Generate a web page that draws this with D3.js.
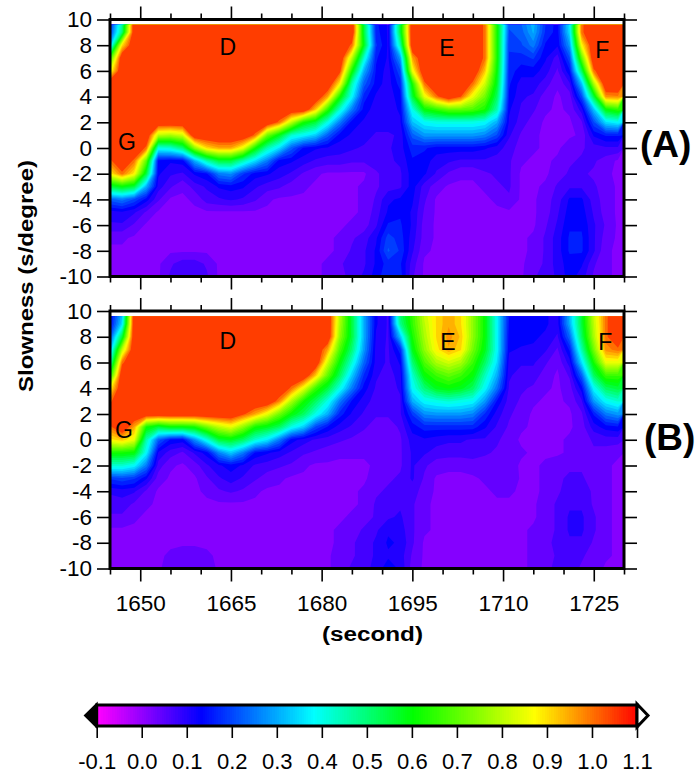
<!DOCTYPE html>
<html>
<head>
<meta charset="utf-8">
<script src="https://cdn.jsdelivr.net/npm/d3@7"></script>
<style>
body { margin: 0; background: #fff; }
text { font-family: "Liberation Sans", sans-serif; fill: #000; }
</style>
</head>
<body>
<svg width="698" height="774"></svg>
<script>
// Grid axes. Columns run along time, rows from the top of the panel down.

var times = d3.range(1645, 1730, 2);
var slownesses = d3.range(10, -11, -1);

// Coherence, in hundredths. 110 = saturated red.

var panelA = [
 [15,45,110,110,110,110,110,110,110,110, 110,110,110,110,110,110,110,110,110,110, 110,55,15,11,55,110,110,110,110,110, 110,100,62,22,24,32,18,13,38,100,110,110,110],
 [18,50,110,110,110,110,110,110,110,110, 110,110,110,110,110,110,110,110,110,110, 110,55,16,11,55,110,110,110,110,110, 110,100,62,20,22,30,17,13,35,100,110,110,110],
 [30,90,110,110,110,110,110,110,110,110, 110,110,110,110,110,110,110,110,110,110, 100,58,18,11,45,110,110,110,110,110, 110,100,62,18,20,25,14,12,28,87,110,110,110],
 [65,110,110,110,110,110,110,110,110,110, 110,110,110,110,110,110,110,110,110,110, 80,42,15,11,28,95,110,110,110,110, 110,100,62,17,16,18,12,7,20,70,110,110,110],
 [85,110,110,110,110,110,110,110,110,110, 110,110,110,110,110,110,110,110,110,104, 62,30,14,10,20,85,110,110,110,110, 110,92,60,16,13,13,10,5,14,52,100,110,110],
 [110,110,110,110,110,110,110,110,110,110, 110,110,110,110,110,110,110,110,110,88, 45,22,13,10,16,62,100,110,110,110, 100,82,57,15,10,10,7,3,8,32,78,110,110],
 [110,110,110,110,110,110,110,110,110,110, 110,110,110,110,110,110,110,110,95,62, 38,16,11,10,13,55,85,100,110,102, 85,72,52,14,9,8,4,2,4,20,55,97,98],
 [110,110,110,110,110,110,110,110,110,110, 110,110,110,110,110,110,110,92,65,42, 25,13,10,10,12,40,60,65,70,70, 68,62,45,12,8,6,3,2,3,10,32,60,65],
 [110,110,110,110,110,110,110,110,110,110, 110,110,110,110,100,80,62,55,40,25, 13,11,10,10,11,32,38,40,40,40, 40,38,30,11,7,4,2,2,2,5,20,35,38],
 [110,110,110,110,80,78,82,110,110,110, 110,110,100,72,58,42,38,33,22,13, 11,10,8,8,9,22,28,28,28,28, 28,26,20,9,5,3,2,2,2,3,12,15,15],
 [110,110,110,100,40,42,50,75,90,95, 95,85,62,45,35,22,14,12,11,10, 9,8,7,8,10,16,15,13,13,13, 13,12,10,7,4,3,2,2,4,5,7,8,8],
 [100,110,100,70,13,12,13,30,45,55, 55,45,35,25,13,12,10,8,7,7, 6,6,7,8,9,14,13,10,9,8, 8,8,7,6,3,2,2,3,5,6,6,4,2],
 [88,100,88,55,12,9,8,12,14,25, 27,18,13,12,10,8,5,3,2,2, 2,2,5,7,8,13,12,8,5,3, 3,5,6,6,2,2,2,4,6,6,5,3,2],
 [55,60,55,30,10,6,3,7,9,12, 13,12,9,7,6,4,3,2,2,2, 2,3,5,7,8,13,7,4,2,2, 2,3,5,6,2,2,3,6,8,8,6,4,2],
 [22,25,20,13,6,2,2,3,7,8, 9,8,6,3,2,2,2,2,2,2, 2,3,6,11,12,12,6,2,2,2, 2,2,3,5,2,2,4,7,12,12,7,4,2],
 [10,11,9,5,2,2,2,2,2,2, 2,2,2,2,2,2,2,2,2,2, 2,3,7,12,14,11,5,2,2,2, 2,2,2,2,2,2,4,8,13,13,8,4,2],
 [8,8,5,2,2,2,2,2,2,2, 2,2,2,2,2,2,2,2,2,2, 3,4,8,15,15,11,4,2,2,2, 2,2,2,2,2,2,5,9,14,14,9,5,2],
 [3,3,2,2,2,2,2,2,2,2, 2,2,2,2,2,2,2,2,2,3, 5,7,11,19,16,10,4,2,2,2, 2,2,2,2,2,3,6,10,15,15,9,4,2],
 [2,2,2,2,2,2,2,2,2,2, 2,2,2,2,2,2,2,2,2,3, 6,8,12,21,17,9,3,2,2,2, 2,2,2,2,2,3,6,10,15,15,9,3,2],
 [2,2,2,2,2,5,7,7,5,2, 2,2,2,2,2,2,2,2,3,5, 7,8,12,16,15,7,2,2,2,2, 2,2,2,2,2,4,6,10,13,12,6,3,2],
 [2,2,2,2,2,6,8,8,6,2, 2,2,2,2,2,2,2,2,3,4, 7,9,13,17,16,6,2,2,2,2, 2,2,2,2,2,5,7,9,13,10,5,3,2]
];

var panelB = [
 [12,30,110,110,110,110,110,110,110,110, 110,110,110,110,110,110,110,110,110,80, 55,30,12,8,52,66,82,90,95,90, 75,60,38,15,14,14,12,10,32,56,82,100,110],
 [13,35,110,110,110,110,110,110,110,110, 110,110,110,110,110,110,110,110,110,78, 55,30,12,8,48,65,80,90,95,90, 75,60,38,14,13,13,12,10,30,55,80,100,110],
 [20,55,110,110,110,110,110,110,110,110, 110,110,110,110,110,110,110,110,110,75, 55,30,11,8,32,62,78,90,97,92, 75,60,38,13,13,12,11,8,23,52,78,100,110],
 [30,80,110,110,110,110,110,110,110,110, 110,110,110,110,110,110,110,110,95,68, 50,28,10,8,16,58,75,88,95,90, 72,58,38,12,11,11,9,5,15,45,72,97,100],
 [42,100,110,110,110,110,110,110,110,110, 110,110,110,110,110,110,110,110,82,60, 42,23,10,8,12,50,68,78,82,78, 66,52,35,10,9,9,6,3,10,35,62,85,85],
 [62,110,110,110,110,110,110,110,110,110, 110,110,110,110,110,110,110,92,70,52, 33,17,9,7,10,42,60,66,70,66, 60,44,30,9,7,7,4,2,6,22,52,66,66],
 [87,110,110,110,110,110,110,110,110,110, 110,110,110,110,110,100,85,66,55,40, 25,13,8,7,9,38,50,58,60,58, 52,38,24,8,6,5,3,2,4,13,38,52,55],
 [100,110,110,110,110,110,110,110,110,110, 110,110,110,110,98,78,62,52,40,25, 14,10,7,7,8,30,38,40,42,40, 38,28,14,7,5,3,2,2,3,8,28,38,42],
 [110,110,110,110,110,110,110,110,110,110, 110,103,95,85,72,60,52,40,30,16, 11,8,6,6,8,18,27,28,28,28, 26,17,10,6,4,2,2,2,2,5,15,25,28],
 [100,110,95,62,55,60,60,62,72,80, 85,75,62,58,52,40,33,20,14,10, 8,6,4,4,6,13,16,16,16,16, 16,12,8,5,3,2,2,2,2,4,10,13,14],
 [88,92,85,45,22,14,13,27,40,55, 58,52,42,36,25,13,10,8,7,6, 5,4,3,3,5,10,11,10,9,9, 8,8,6,4,2,2,2,2,3,4,6,7,7],
 [62,62,60,38,11,7,5,9,13,26, 33,25,14,12,10,8,6,5,4,3, 3,3,3,3,5,9,9,7,7,7, 7,6,5,4,3,2,2,2,3,4,5,4,3],
 [42,42,38,25,7,3,2,4,8,11, 13,11,8,7,6,5,3,2,2,2, 2,2,3,4,5,9,6,4,3,3, 4,4,5,4,2,2,3,4,5,5,4,3,2],
 [18,20,18,12,4,2,2,2,5,8, 10,8,6,4,3,2,2,2,2,2, 2,2,4,5,6,9,5,2,2,2, 2,3,4,5,2,2,3,5,6,6,4,3,2],
 [9,10,9,5,2,2,2,2,3,5, 6,5,3,2,2,2,2,2,2,2, 2,3,5,6,7,7,4,2,2,2, 2,2,3,3,2,2,3,5,7,7,5,3,2],
 [7,7,5,3,2,2,2,2,2,2, 2,2,2,2,2,2,2,2,2,2, 2,3,6,7,8,6,3,2,2,2, 2,2,2,2,2,2,4,6,8,8,5,3,2],
 [5,5,3,2,2,2,2,2,2,2, 2,2,2,2,2,2,2,2,2,2, 3,4,6,8,9,6,3,2,2,2, 2,2,2,2,2,2,4,6,9,9,6,3,2],
 [2,2,2,2,2,2,2,2,2,2, 2,2,2,2,2,2,2,2,2,3, 4,6,8,11,10,6,3,2,2,2, 2,2,2,2,2,3,4,6,9,9,6,3,2],
 [2,2,2,2,2,2,2,2,2,2, 2,2,2,2,2,2,2,2,2,3, 5,7,9,12,11,6,2,2,2,2, 2,2,2,2,2,3,4,7,8,8,5,3,2],
 [2,2,2,2,2,3,4,4,3,2, 2,2,2,2,2,2,2,2,2,4, 5,7,9,11,10,5,2,2,2,2, 2,2,2,2,2,3,4,6,7,6,4,3,2],
 [2,2,2,2,2,4,5,5,4,2, 2,2,2,2,2,2,2,2,2,4, 6,7,10,13,11,4,2,2,2,2, 2,2,2,2,2,3,5,6,7,5,4,2,2]
];

var xMajor = [1650, 1665, 1680, 1695, 1710, 1725];
var xMinor = [1645, 1655, 1660, 1670, 1675, 1685, 1690, 1700, 1705, 1715, 1720, 1730];
var yTicks = [-10, -8, -6, -4, -2, 0, 2, 4, 6, 8, 10];
var barTicks = [-0.1, 0.0, 0.1, 0.2, 0.3, 0.4, 0.5, 0.6, 0.7, 0.8, 0.9, 1.0, 1.1];

var colorStops = [-0.1, 0.13, 0.38, 0.6, 0.87, 1.1];
var colorNames = ['#ff00ff', '#0000ff', '#00ffff', '#00ff00', '#ffff00', '#ff0000'];

var labelsA = [['D', 1664.5, 7.9], ['E', 1700.7, 7.8], ['F', 1726.4, 7.6], ['G', 1647.8, 0.5]];
var labelsB = [['D', 1664.5, 7.7], ['E', 1700.9, 7.6], ['F', 1726.9, 7.6], ['G', 1647.3, 0.8]];

var svg = d3.select('svg');

// Scales shared by both panels.

var x = d3.scaleLinear().domain([1645, 1730]).range([110, 624]);
var color = d3.scaleLinear().domain(colorStops).range(colorNames).clamp(true);

// Filled bands. Everything above the last level is the saturated red.

var bandStep = 0.03;
var levels = d3.range(-0.095, 1.03, bandStep);
var topLevel = levels[levels.length - 1];

function bandColor(level) {
 return level === topLevel ? color(1.045) : color(level + bandStep / 2);
}

function drawPanel(name, grid, top, bottom, labels, showX) {
 var y = d3.scaleLinear().domain([-10, 10]).range([bottom, top]);
 var g = svg.append('g').attr('class', 'panel-' + name);

 g.append('clipPath').attr('id', 'clip-' + name)
 .append('rect')
 .attr('x', x(1645))
 .attr('y', y(9.6))
 .attr('width', x(1730) - x(1645))
 .attr('height', y(-10) - y(9.6));

 var values = d3.merge(grid).map(function(d) { return d / 100; });
 var contours = d3.contours()
 .size([times.length, slownesses.length])
 .thresholds(levels)(values);

 // Grid index space to screen, the value at index i sits on i + 0.5.
 var path = d3.geoPath(d3.geoTransform({
  point: function(px, py) {
   this.stream.point(x(times[0] + (px - 0.5) * 2), y(slownesses[0] - (py - 0.5)));
  }
 }));

 g.append('g')
 .attr('clip-path', 'url(#clip-' + name + ')')
 .selectAll('path')
 .data(contours)
 .enter().append('path')
 .attr('d', path)
 .attr('fill', function(d) { return bandColor(d.value); });

 // Frame and ticks on all four sides.

 g.append('rect')
 .attr('x', x(1645))
 .attr('y', top)
 .attr('width', x(1730) - x(1645))
 .attr('height', bottom - top)
 .attr('fill', 'none')
 .attr('stroke', '#000')
 .attr('stroke-width', 3);

 function addAxis(axis, tx, ty, values, size, format, pad) {
  var a = g.append('g')
  .attr('transform', 'translate(' + tx + ',' + ty + ')')
  .call(axis.tickValues(values).tickSize(size).tickPadding(pad).tickFormat(format));
  a.select('.domain').remove();
  a.selectAll('line').attr('stroke', '#000').attr('stroke-width', 1.6);
  a.selectAll('text').attr('font-size', 22.5).attr('font-family', '"Liberation Sans", sans-serif');
 }

 var blank = function() { return ''; };
 var plain = function(d) { return String(d); };
 addAxis(d3.axisLeft(y), x(1645), 0, yTicks, 13, plain, 5);
 addAxis(d3.axisRight(y), x(1730), 0, yTicks, 13, blank, 3);
 addAxis(d3.axisTop(x), 0, top, xMajor, 13, blank, 3);
 addAxis(d3.axisTop(x), 0, top, xMinor, 6, blank, 3);
 addAxis(d3.axisBottom(x), 0, bottom, xMajor, 13, showX ? plain : blank, 13.5);
 addAxis(d3.axisBottom(x), 0, bottom, xMinor, 6, blank, 3);

 // Phase letters.

 g.selectAll('.phase')
 .data(labels)
 .enter().append('text')
 .attr('class', 'phase')
 .attr('x', function(d) { return x(d[1]); })
 .attr('y', function(d) { return y(d[2]); })
 .attr('dy', '0.35em')
 .attr('text-anchor', 'middle')
 .attr('font-size', 23)
 .text(function(d) { return d[0]; });
}

drawPanel('a', panelA, 19.5, 276.5, labelsA, false);
drawPanel('b', panelB, 311, 568.5, labelsB, true);

// Titles. The bold lettering in the picture runs wider than Liberation Sans.

svg.append('text')
.attr('transform', 'translate(33,276) rotate(-90)')
.attr('text-anchor', 'middle')
.attr('font-size', 20)
.attr('font-weight', 'bold')
.attr('textLength', 232)
.attr('lengthAdjust', 'spacingAndGlyphs')
.text('Slowness (s/degree)');

svg.append('text')
.attr('x', 372.5)
.attr('y', 641)
.attr('text-anchor', 'middle')
.attr('font-size', 20)
.attr('font-weight', 'bold')
.attr('textLength', 101)
.attr('lengthAdjust', 'spacingAndGlyphs')
.text('(second)');

svg.append('text')
.attr('x', 640)
.attr('y', 157)
.attr('font-size', 37)
.attr('font-weight', 'bold')
.text('(A)');

svg.append('text')
.attr('x', 644)
.attr('y', 450)
.attr('font-size', 37)
.attr('font-weight', 'bold')
.text('(B)');

// Color bar.

var barX = d3.scaleLinear().domain([-0.1, 1.1]).range([96.7, 637]);
var barTop = 705;
var barBottom = 726;
var barCells = d3.range(-0.1, 1.1, 0.005);

var bar = svg.append('g').attr('class', 'colorbar');

bar.selectAll('rect')
.data(barCells)
.enter().append('rect')
.attr('x', function(d) { return barX(d); })
.attr('y', barTop)
.attr('width', barX(0.006) - barX(0))
.attr('height', barBottom - barTop)
.attr('shape-rendering', 'crispEdges')
.attr('fill', function(d) { return color(d); });

bar.append('rect')
.attr('x', barX(-0.1))
.attr('y', barTop)
.attr('width', barX(1.1) - barX(-0.1))
.attr('height', barBottom - barTop)
.attr('fill', 'none')
.attr('stroke', '#000')
.attr('stroke-width', 3);

bar.append('path')
.attr('d', d3.line()([[barX(-0.1), barTop - 1], [85, (barTop + barBottom) / 2], [barX(-0.1), barBottom + 1]]) + 'Z')
.attr('fill', '#000')
.attr('stroke', '#000')
.attr('stroke-width', 2);

bar.append('path')
.attr('d', d3.line()([[barX(1.1), barTop - 1], [648, (barTop + barBottom) / 2], [barX(1.1), barBottom + 1]]) + 'Z')
.attr('fill', '#fff')
.attr('stroke', '#000')
.attr('stroke-width', 3);

var barAxis = svg.append('g')
.attr('transform', 'translate(0,' + barBottom + ')')
.call(d3.axisBottom(barX).tickValues(barTicks).tickSize(12).tickPadding(15).tickFormat(function(d) { return d.toFixed(1); }));
barAxis.select('.domain').remove();
barAxis.selectAll('line').attr('stroke', '#000').attr('stroke-width', 1.6);
barAxis.selectAll('text').attr('font-size', 22).attr('font-family', '"Liberation Sans", sans-serif');
</script>
</body>
</html>
